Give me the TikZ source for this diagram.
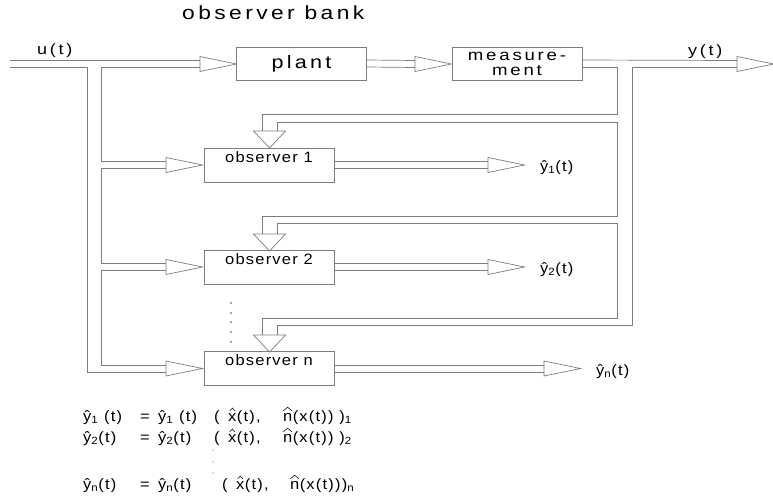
\documentclass[tikz,border=0pt]{standalone}
\usepackage{fontspec}
\setmainfont{Liberation Sans}[FakeStretch=1.1,LetterSpace=8]
\newfontfamily\widefont{Liberation Sans}[FakeStretch=1.2,LetterSpace=18]
\definecolor{lncol}{RGB}{125,125,125}
\tikzset{
  ln/.style={draw=lncol, line width=0.7pt},
  hatln/.style={draw=black, line width=0.55pt},
  box/.style={ln, inner sep=0pt, minimum width=130pt},
  obsbox/.style={box, text height=14pt, text depth=20pt, font=\fontsize{15}{16}\selectfont},
  lbl/.style={anchor=base west, inner sep=0pt},
  pics/triR/.style={code={\draw[ln] (0,-7.5) -- (36.5,0) -- (0,7.5) -- cycle;}},
  pics/triD/.style={code={\draw[ln] (-16,0) -- (0,17) -- (16,0) -- cycle;}}
}
\begin{document}
\begin{tikzpicture}[x=1pt,y=-1pt]
\useasboundingbox (0,0) rectangle (773,498);

% title and signal labels
\node[lbl, font=\widefont\fontsize{19}{22}\selectfont] (title) at (182,19) {observer bank};
\node[lbl, font=\widefont\fontsize{15}{16}\selectfont] (ulab) at (37,54) {u(t)};
\node[lbl, font=\widefont\fontsize{15}{16}\selectfont] (ylab) at (688,55) {y(t)};

% blocks
\node[box, minimum height=33pt, font=\widefont\fontsize{18}{20}\selectfont] (plant) at (301.5,63.5) {plant};
\node[box, minimum height=33pt, align=center, font=\widefont\fontsize{15.5}{15}\selectfont] (meas) at (517,63.5) {measure-\\ment};
\node[obsbox] (o1) at (269,165) {observer 1};
\node[obsbox] (o2) at (269,267) {observer 2};
\node[obsbox] (on) at (269,368.5) {observer n};

% input pipe u(t)
\coordinate (uin) at (10,64);
\draw[ln] ([yshift=3.5pt]uin) -- (200,60.5);
\draw[ln] ([yshift=-3.5pt]uin) -| (87,372) -- (166,372);
\draw[ln] (200,67.5) -| (101,161.5) -- (166,161.5);
\draw[ln] (166,168.5) -| (101,263.5) -- (166,263.5);
\draw[ln] (166,270.5) -| (101,365) -- (166,365);
\pic at (200,64) {triR};
\pic at (166,165) {triR};
\pic at (166,267) {triR};
\pic at (166,368.5) {triR};

% plant -> measurement
\draw[ln] ([yshift=3.5pt]plant.east) -- (415,60.5);
\draw[ln] ([yshift=-3.5pt]plant.east) -- (415,67.5);
\pic at (415,64) {triR};

% output y(t) and feedback pipes
\draw[ln] ([yshift=3.5pt]meas.east) -- (737,60.5);
\draw[ln] ([yshift=-3.5pt]meas.east) -| (617,114) -| (262,131);
\draw[ln] (737,67.5) -| (632,325) -| (277,335);
\draw[ln] (277,131) |- (617,122) |- (262,216) -- (262,234);
\draw[ln] (277,234) |- (617,223) |- (262,318) -- (262,335);
\pic at (737,64) {triR};
\pic at (269.5,131) {triD};
\pic at (269.5,234) {triD};
\pic at (269.5,335) {triD};

% observer outputs
\draw[ln] ([yshift=3.5pt]o1.east) -- (488,161.5);
\draw[ln] ([yshift=-3.5pt]o1.east) -- (488,168.5);
\pic at (488,165) {triR};
\draw[ln] ([yshift=3.5pt]o2.east) -- (488,263.5);
\draw[ln] ([yshift=-3.5pt]o2.east) -- (488,270.5);
\pic at (488,267) {triR};
\draw[ln] ([yshift=3.5pt]on.east) -- (544,365);
\draw[ln] ([yshift=-3.5pt]on.east) -- (544,372);
\pic at (544,368.5) {triR};

\node[lbl, font=\fontsize{15}{16}\selectfont] (yh1) at (540,171) {ŷ\textsubscript{1}(t)};
\node[lbl, font=\fontsize{15}{16}\selectfont] (yh2) at (540,273) {ŷ\textsubscript{2}(t)};
\node[lbl, font=\fontsize{15}{16}\selectfont] (yhn) at (596,375) {ŷ\textsubscript{n}(t)};

% dots between observer 2 and observer n
\foreach \yy in {303,313,322,332,342}
  \fill[black!70] (231,\yy) circle (0.8pt);

% equations
\begin{scope}[every node/.style={lbl, font=\fontsize{15}{16}\selectfont}]
\node (e1a) at (83,421) {ŷ\textsubscript{1} (t)};
\node (e1b) at (140,421) {=};
\node (e1c) at (158,421) {ŷ\textsubscript{1} (t)};
\node (e1d) at (214,421) {(};
\node (e1x) at (228,421) {x};
\node (e1f) at (e1x.base east) {(t),};
\node (e1n) at (283,421) {n};
\node (e1e) at (e1n.base east) {(x(t)) )\textsubscript{1}};
\node (e2a) at (83,442) {ŷ\textsubscript{2}(t)};
\node (e2b) at (140,442) {=};
\node (e2c) at (158,442) {ŷ\textsubscript{2}(t)};
\node (e2d) at (214,442) {(};
\node (e2x) at (228,442) {x};
\node (e2f) at (e2x.base east) {(t),};
\node (e2n) at (283,442) {n};
\node (e2e) at (e2n.base east) {(x(t)) )\textsubscript{2}};
\node (ena) at (83,489) {ŷ\textsubscript{n}(t)};
\node (enb) at (140,489) {=};
\node (enc) at (158,489) {ŷ\textsubscript{n}(t)};
\node (end) at (222,489) {(};
\node (enx) at (236,489) {x};
\node (enf) at (enx.base east) {(t),};
\node (enn) at (290,489) {n};
\node (ene) at (enn.base east) {(x(t)))\textsubscript{n}};
\end{scope}
\foreach \nn in {e1n,e2n,enn}
  \draw[hatln] ([shift={(0.3,-2)}]\nn.north west) -- ([shift={(4.6,-5.5)}]\nn.north west) -- ([shift={(8.9,-2)}]\nn.north west);
\foreach \nn in {e1x,e2x,enx}
  \draw[hatln] ([shift={(1.8,-2.2)}]\nn.north west) -- ([shift={(4.3,-4.8)}]\nn.north west) -- ([shift={(6.8,-2.2)}]\nn.north west);
\foreach \yy in {450,462,473}
  \fill[black!60] (213,\yy) circle (0.6pt);
\end{tikzpicture}
\end{document}
